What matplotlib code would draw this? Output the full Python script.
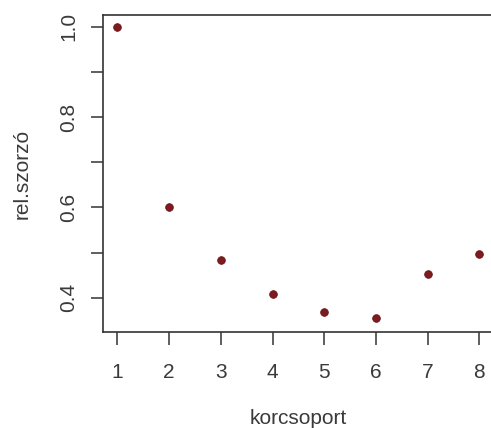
import matplotlib
matplotlib.use("Agg")
import matplotlib.pyplot as plt

# age groups and relative multipliers
korcsoport = [1, 2, 3, 4, 5, 6, 7, 8]
szorzo = [1.0, 0.60, 0.484, 0.409, 0.368, 0.354, 0.453, 0.497]

# R drops every other y label, but keeps the tick
yticks = [0.4, 0.5, 0.6, 0.7, 0.8, 0.9, 1.0]
ylabels = ['0.4', '', '0.6', '', '0.8', '', '1.0']

plt.rcParams['font.family'] = ['Liberation Sans', 'DejaVu Sans']
txt = '#3a3a3a'

fig = plt.figure(figsize=(4.91, 4.28), dpi=100)
# axes run a little past the right edge, like the cropped original
ax = fig.add_axes([0.2098, 0.2243, 0.7959, 0.7407])

ax.plot(korcsoport, szorzo, linestyle='none', marker='o', markersize=5.5,
        color='#7d1b1f', markeredgecolor='#6a1518', markeredgewidth=0.6)

ax.set_xlim(0.72, 8.28)
ax.set_ylim(0.324, 1.026)
ax.set_xticks(korcsoport)
ax.set_yticks(yticks)
ax.set_yticklabels(ylabels, rotation=90, va='center')

for s in ax.spines.values():
    s.set_color('#333333')
    s.set_linewidth(1.2)

ax.tick_params('both', direction='out', length=9, width=1.1,
               color='#333333', labelcolor=txt, labelsize=15)
ax.tick_params('x', pad=13)
ax.tick_params('y', pad=9)

ax.set_xlabel('korcsoport', fontsize=15, color=txt, labelpad=20)
ax.set_ylabel('rel.szorzó', fontsize=15, color=txt, labelpad=20)

fig.savefig('out.png', dpi=100)
